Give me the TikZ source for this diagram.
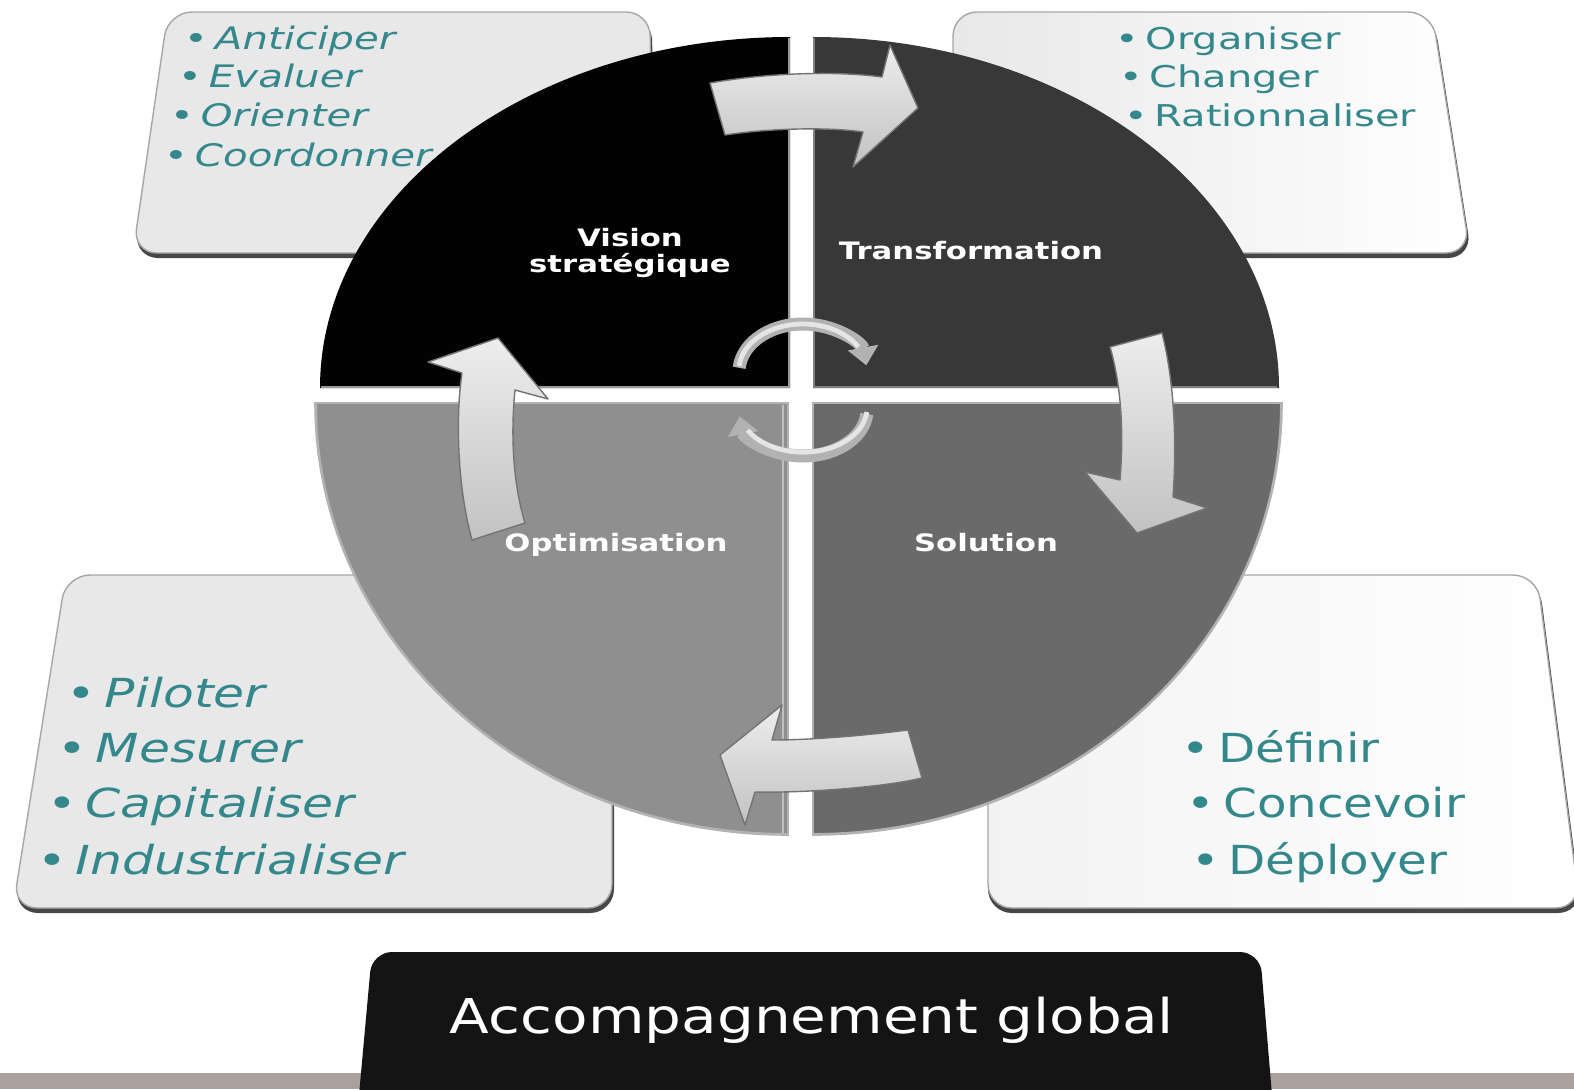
\documentclass[tikz,border=0pt]{standalone}
\usepackage{fontspec}
\setmainfont{DejaVu Sans}
\usetikzlibrary{arrows.meta}
\definecolor{teal1}{RGB}{52,136,140}
\definecolor{qTL}{RGB}{2,2,2}
\definecolor{qTR}{RGB}{56,56,56}
\definecolor{qBL}{RGB}{143,143,143}
\definecolor{qBR}{RGB}{106,106,106}
\definecolor{band}{RGB}{170,160,156}
\definecolor{boxblack}{RGB}{20,20,20}
\newcommand{\bul}{•\hspace{0.18em}}
\begin{document}
\begin{tikzpicture}[x=0.5pt,y=-0.5pt,
  itemtxt/.style={anchor=base west, inner sep=0pt, outer sep=0pt, text=teal1},
  smallit/.style={itemtxt, font=\fontsize{15.5}{18}\selectfont\itshape, xscale=1.3},
  smallup/.style={itemtxt, font=\fontsize{15}{18}\selectfont, xscale=1.33},
  bigit/.style={itemtxt, font=\fontsize{20}{24}\selectfont\itshape, xscale=1.26},
  bigup/.style={itemtxt, font=\fontsize{20}{24}\selectfont, xscale=1.21},
  quadlabel/.style={anchor=base, inner sep=0pt, text=white, font=\fontsize{12}{14}\selectfont\bfseries, xscale=1.28},
  boxshadow/.style={fill=black!72, rounded corners=12pt},
  boxline/.style={draw=black!35, line width=0.7pt, rounded corners=12pt},
  quad/.style={draw=black!45, line width=0.8pt},
  blockarrow/.style={draw=black!55, line width=0.7pt, top color=black!7, bottom color=black!24, line join=round},
  ring/.style={line width=6.5pt, draw=black!30, -{Triangle[length=9pt,width=15pt]}},
  ringhi/.style={line width=2.4pt, draw=white!90!black}]
\clip (0,0) rectangle (1574,1089);
\fill[white] (0,0) rectangle (1574,1089);

% ---- corner boxes ----
\fill[boxshadow] (168,17) -- (652,17) -- (654,258) -- (134,258) -- cycle;
\path[boxline, fill=black!9] (168,12) -- (650,12) -- (652,253) -- (133,253) -- cycle;
\fill[boxshadow] (953,17) -- (1434,17) -- (1472,258) -- (953,258) -- cycle;
\path[boxline, left color=black!9, right color=white] (953,12) -- (1432,12) -- (1470,253) -- (953,253) -- cycle;
\fill[boxshadow] (66,580) -- (614,580) -- (614,913) -- (14,913) -- cycle;
\path[boxline, fill=black!9] (66,575) -- (612,575) -- (612,908) -- (13,908) -- cycle;
\fill[boxshadow] (988,580) -- (1539,580) -- (1582,913) -- (988,913) -- cycle;
\path[boxline, left color=black!5, right color=white] (988,575) -- (1537,575) -- (1580,908) -- (988,908) -- cycle;

% ---- box texts ----
\node[smallit] (t1) at (184,49) {\bul Anticiper};
\node[smallit] (t2) at (178,87) {\bul Evaluer};
\node[smallit] (t3) at (170,126) {\bul Orienter};
\node[smallit] (t4) at (164,166) {\bul Coordonner};
\node[smallup] (r1) at (1115,49) {\bul Organiser};
\node[smallup] (r2) at (1119,87) {\bul Changer};
\node[smallup] (r3) at (1124,126) {\bul Rationnaliser};
\node[bigit] (l1) at (66,707) {\bul Piloter};
\node[bigit] (l2) at (57,762) {\bul Mesurer};
\node[bigit] (l3) at (47,817) {\bul Capitaliser};
\node[bigit] (l4) at (37,874) {\bul Industrialiser};
\node[bigup] (b1) at (1181,762) {\bul Définir};
\node[bigup] (b2) at (1186,817) {\bul Concevoir};
\node[bigup] (b3) at (1191,874) {\bul Déployer};

% ---- disc ----
\path[fill=qTL] (320,388) arc[start angle=180, end angle=270, x radius=470, y radius=351] -- (790,388) -- cycle;
\path[fill=qTR] (813,37) arc[start angle=270, end angle=360, x radius=466, y radius=351] -- (813,388) -- cycle;
\draw[black!40, line width=0.8pt] (321,387) -- (789,387) -- (789,38);
\draw[black!50, line width=0.8pt] (814,38) -- (814,387) -- (1277,387);
\path[quad, fill=qBL, draw=black!30] (315,403) arc[start angle=180, end angle=90, x radius=473, y radius=432] -- (788,403) -- cycle;
\path[quad, fill=qBR, draw=black!30] (813,835) arc[start angle=90, end angle=0, x radius=469, y radius=432] -- (813,403) -- cycle;
\draw[white!75!black, line width=1.2pt] (783,405) -- (783,833);
\draw[white!70!black, line width=1pt] (316,404) arc[start angle=180, end angle=90, x radius=472, y radius=430];
\draw[white!70!black, line width=1pt] (1281,404) arc[start angle=0, end angle=90, x radius=468, y radius=430];

% ---- quadrant labels ----
\node[quadlabel] (q1a) at (630,246) {Vision};
\node[quadlabel] (q1b) at (630,272) {stratégique};
\node[quadlabel] (q2) at (971,259) {Transformation};
\node[quadlabel] (q3) at (616,551) {Optimisation};
\node[quadlabel] (q4) at (986,551) {Solution};

% ---- big block arrows ----
\path[blockarrow] (710,83) .. controls (760,74) and (830,70) .. (882,77) -- (890,45) -- (918,108) -- (853,167) -- (863,132) .. controls (830,127) and (770,128) .. (725,135) -- cycle;
\path[blockarrow] (1110,347) -- (1162,333) .. controls (1174,380) and (1177,440) .. (1173,497) -- (1207,508) -- (1137,533) -- (1085,472) -- (1120,480) .. controls (1124,430) and (1121,385) .. (1110,347) -- cycle;
\path[blockarrow] (908,730) -- (922,778) .. controls (880,788) and (800,793) .. (755,792) -- (745,825) -- (720,755) -- (782,705) -- (772,740) .. controls (810,740) and (860,736) .. (908,730) -- cycle;
\path[blockarrow] (472,540) -- (525,523) .. controls (512,480) and (511,430) .. (515,390) -- (548,399) -- (498,338) -- (428,362) -- (462,373) .. controls (455,420) and (458,490) .. (472,540) -- cycle;

% ---- centre ring arrows ----
\draw[ring] (739.2,367.8) arc[start angle=185, end angle=352, x radius=64, y radius=48];
\draw[ringhi] (739.2,366) arc[start angle=185, end angle=330, x radius=64, y radius=46];
\draw[ring] (866.8,414) arc[start angle=5, end angle=172, x radius=64, y radius=46];
\draw[ringhi] (866.8,412) arc[start angle=5, end angle=150, x radius=64, y radius=44];

% ---- bottom band and box ----
\fill[band] (0,1073) rectangle (1574,1089);
\fill[boxblack] (359,1095) [rounded corners=10pt] -- (372,952) -- (1260,952) [sharp corners] -- (1272,1095) -- cycle;
\node[anchor=base, inner sep=0pt, text=white, font=\fontsize{24}{28}\selectfont, xscale=1.21] (acc) at (812,1033) {Accompagnement global};
\end{tikzpicture}
\end{document}
